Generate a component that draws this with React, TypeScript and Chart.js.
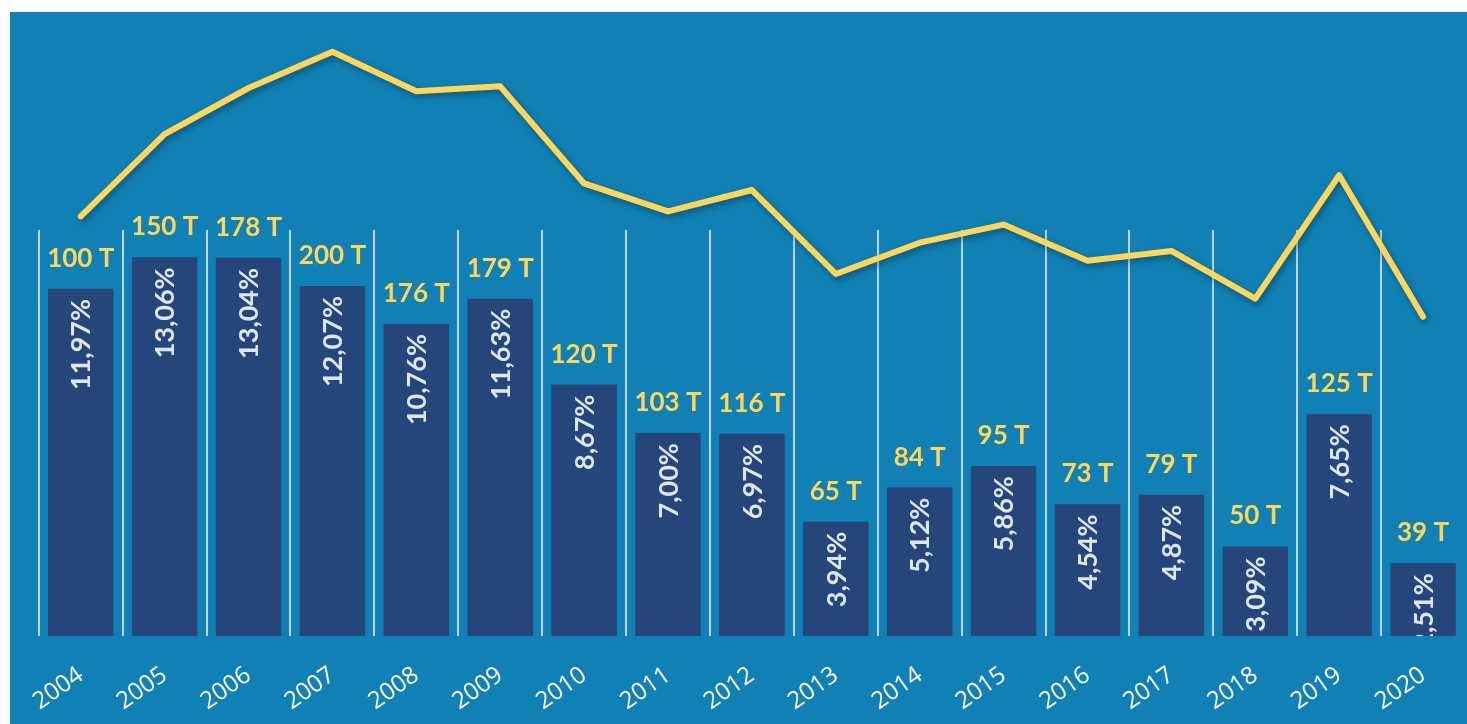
import React, { useEffect, useRef } from "react";
import { Chart, registerables } from "chart.js";

Chart.register(...registerables);

const years = ["2004", "2005", "2006", "2007", "2008", "2009", "2010", "2011", "2012", "2013", "2014", "2015", "2016", "2017", "2018", "2019", "2020"];
const sharePct = [11.97, 13.06, 13.04, 12.07, 10.76, 11.63, 8.67, 7.0, 6.97, 3.94, 5.12, 5.86, 4.54, 4.87, 3.09, 7.65, 2.51];
const tons = [100, 150, 178, 200, 176, 179, 120, 103, 116, 65, 84, 95, 73, 79, 50, 125, 39];
const gridTopValue = 14;

const BG = "#1180b4";
const BAR = "#26457b";
const YELLOW = "#ffd65c";
const PCT_TEXT = "#dde7f2";

const labelsPlugin = {
  id: "customLabels",
  beforeDatasetsDraw(chart: any) {
    const { ctx, chartArea, scales } = chart;
    const x = scales.x;
    const yTop = scales.y.getPixelForValue(gridTopValue);
    const step = x.getPixelForValue(1) - x.getPixelForValue(0);
    ctx.save();
    ctx.strokeStyle = "rgba(215,228,240,0.85)";
    ctx.lineWidth = 2;
    for (let i = 0; i < years.length; i++) {
      const left = Math.round(x.getPixelForValue(i) - step / 2);
      ctx.beginPath();
      ctx.moveTo(left, yTop);
      ctx.lineTo(left, chartArea.bottom);
      ctx.stroke();
    }
    ctx.restore();
  },
  beforeDatasetDraw(chart: any, args: any) {
    if (args.index === 1) {
      const ctx = chart.ctx;
      ctx.save();
      ctx.shadowColor = "rgba(0,0,0,0.35)";
      ctx.shadowBlur = 6;
      ctx.shadowOffsetX = 2;
      ctx.shadowOffsetY = 3;
    }
  },
  afterDatasetDraw(chart: any, args: any) {
    if (args.index === 1) {
      chart.ctx.restore();
    }
    if (args.index === 0) {
      const { ctx, chartArea } = chart;
      const meta = chart.getDatasetMeta(0);
      ctx.save();
      ctx.beginPath();
      ctx.rect(chartArea.left, chartArea.top, chartArea.right - chartArea.left, chartArea.bottom - chartArea.top);
      ctx.clip();
      ctx.font = "bold 27px Lato";
      ctx.fillStyle = PCT_TEXT;
      meta.data.forEach((bar: any, i: number) => {
        ctx.save();
        ctx.translate(bar.x, bar.y + 10);
        ctx.rotate(-Math.PI / 2);
        ctx.textAlign = "right";
        ctx.textBaseline = "middle";
        ctx.fillText(sharePct[i].toFixed(2).replace(".", ",") + "%", 0, 1);
        ctx.restore();
      });
      ctx.restore();
      ctx.save();
      ctx.font = "bold 26px Lato";
      ctx.fillStyle = YELLOW;
      ctx.textAlign = "center";
      ctx.textBaseline = "alphabetic";
      meta.data.forEach((bar: any, i: number) => {
        ctx.fillText(tons[i] + " T", bar.x, bar.y - 22);
      });
      ctx.restore();
    }
  },
};

export default function App() {
  const canvasRef = useRef<HTMLCanvasElement | null>(null);

  useEffect(() => {
    if (!canvasRef.current) return;
    const chart = new Chart(canvasRef.current, {
      type: "bar",
      data: {
        labels: years,
        datasets: [
          {
            type: "bar",
            data: sharePct,
            backgroundColor: BAR,
            borderWidth: 0,
            barPercentage: 0.78,
            categoryPercentage: 1,
            yAxisID: "y",
            order: 2,
          },
          {
            type: "line",
            data: tons,
            borderColor: YELLOW,
            borderWidth: 6,
            pointRadius: 0,
            borderCapStyle: "round",
            borderJoinStyle: "round",
            tension: 0,
            yAxisID: "y1",
            order: 1,
          },
        ] as any,
      },
      options: {
        animation: false,
        responsive: false,
        maintainAspectRatio: false,
        layout: { padding: { left: 27, right: 2, top: 24, bottom: 0 } },
        plugins: { legend: { display: false }, tooltip: { enabled: false } },
        scales: {
          x: {
            offset: true,
            grid: { display: false, drawTicks: false },
            border: { display: false },
            ticks: {
              color: "#ffffff",
              font: { family: "Open Sans", size: 24 },
              minRotation: 35,
              maxRotation: 35,
              padding: 25,
              autoSkip: false,
            },
            afterFit: (scale: any) => {
              scale.height = 88;
            },
          },
          y: { display: false, min: 0, max: 600 / 29 },
          y1: { display: false, min: -155, max: 209.6 },
        },
      },
      plugins: [labelsPlugin],
    });
    return () => chart.destroy();
  }, []);

  return (
    <div style={{ position: "fixed", left: 10, top: 12, width: 1457, height: 712, background: BG }}>
      <canvas ref={canvasRef} width={1457} height={712} style={{ display: "block", width: 1457, height: 712 }} />
    </div>
  );
}
